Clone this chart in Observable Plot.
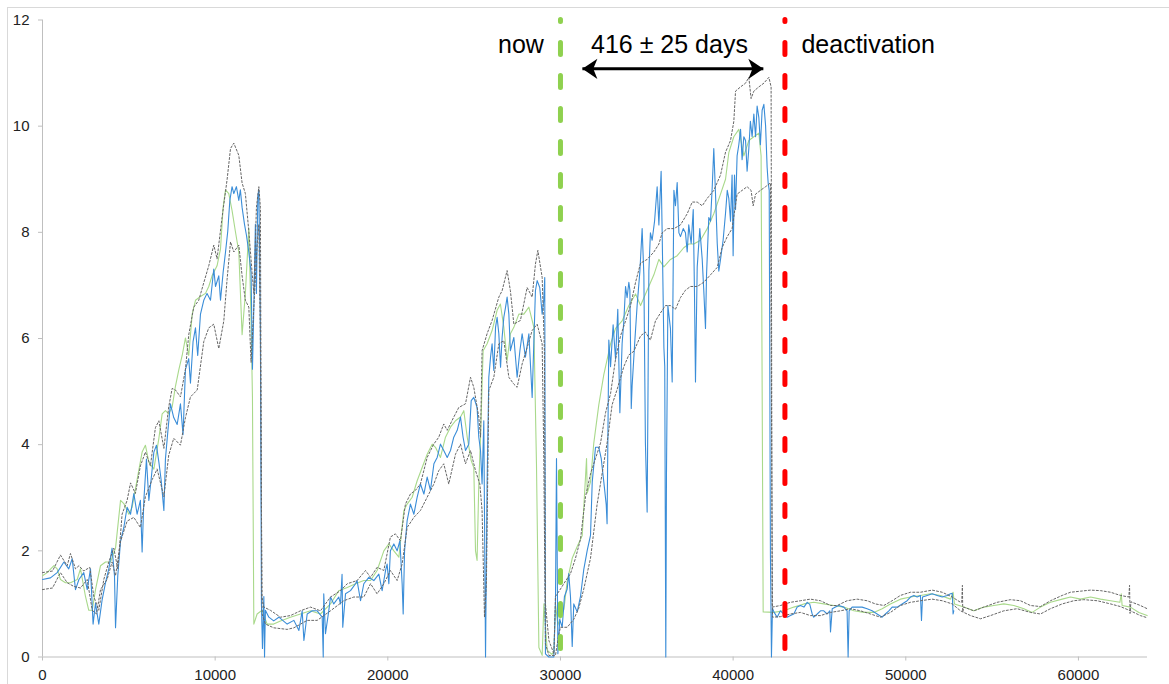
<!DOCTYPE html>
<html>
<head>
<meta charset="utf-8">
<script src="https://cdn.jsdelivr.net/npm/d3@7"></script>
<script src="https://cdn.jsdelivr.net/npm/@observablehq/plot@0.6"></script>
<style>
  html, body { margin: 0; padding: 0; background: #fff; overflow: hidden; }
  #wrap { position: relative; width: 1169px; height: 684px; }
  #border { position: absolute; left: 7px; top: 7px; width: 1200px; height: 700px;
            border-left: 1px solid #d9d9d9; border-top: 1px solid #d9d9d9; pointer-events: none; }
</style>
</head>
<body>
<div id="wrap"><div id="border"></div></div>
<script>
// ---- axes ----
const xDomain = [0, 64000];
const yDomain = [0, 12];
const xTicks = [0, 10000, 20000, 30000, 40000, 50000, 60000];
const yTicks = [0, 2, 4, 6, 8, 10, 12];

// ---- measured series (blue) ----
const measured = [[0,1.46],[460,1.49],[850,1.59],[1240,1.79],[1520,1.66],[1720,1.85],[1910,1.27],[2110,1.46],[2390,1.59],[2590,1.27],[2780,1.66],[2930,0.62],[3070,1.01],[3260,0.62],[3450,1.07],[3650,1.40],[3840,1.66],[4030,2.05],[4170,1.53],[4230,0.55],[4360,1.53],[4520,2.18],[4710,2.44],[4900,2.82],[5100,2.69],[5290,3.08],[5480,2.69],[5670,2.95],[5770,1.98],[5870,2.95],[6020,3.73],[6160,2.95],[6290,3.34],[6450,3.86],[6600,3.99],[6740,3.67],[6870,3.34],[7030,2.76],[7120,3.73],[7260,4.25],[7410,4.77],[7600,4.51],[7800,4.38],[7990,4.77],[8140,4.19],[8280,5.42],[8470,5.62],[8570,5.16],[8720,5.94],[8860,6.20],[8990,5.68],[9150,6.46],[9340,6.72],[9530,6.85],[9730,6.72],[9920,7.31],[10020,6.98],[10210,7.18],[10310,6.72],[10460,7.24],[10600,7.63],[10730,8.02],[10850,8.60],[10980,8.86],[11080,8.73],[11230,8.86],[11370,8.60],[11460,8.80],[11560,8.47],[11700,8.15],[11810,7.95],[11950,7.63],[12080,7.24],[12160,5.42],[12240,6.59],[12330,8.15],[12390,6.85],[12470,8.67],[12530,8.80],[12580,7.50],[12620,6.20],[12680,1.01],[12740,0.16],[12820,1.14],[12860,0],[12910,0.88],[13110,0.75],[13390,0.68],[13690,0.75],
[14170,0.62],[14560,0.69],[14850,0.50],[15040,0.87],[15140,0.31],[15330,0.81],[15620,0.87],[15910,0.87],[16200,0.75],[16260,0],[16290,1.19],[16390,0.44],[16580,0.87],[16680,1.13],[16870,1.00],[17160,1.13],[17260,1.00],[17350,1.56],[17390,0.56],[17550,1.19],[17840,1.25],[18130,1.38],[18220,1.44],[18420,1.06],[18610,1.38],[18900,1.50],[19190,1.44],[19480,1.56],[19670,1.25],[19870,1.63],[19960,1.75],[20060,1.38],[20150,2.00],[20350,2.13],[20540,2.00],[20700,2.19],[20830,1.38],[20890,0.81],[20970,2.00],[21120,2.57],[21310,2.88],[21510,2.69],[21700,3.01],[21890,3.26],[22090,3.07],[22280,3.39],[22470,3.14],[22670,3.64],[22860,3.76],[23050,4.01],[23240,3.89],[23440,3.76],[23630,3.89],[23820,4.14],[24020,4.27],[24210,4.52],[24360,4.14],[24500,3.89],[24690,4.01],[24830,4.83],[24980,4.89],[25170,4.70],[25270,4.14],[25370,3.89],[25460,3.26],[25560,4.45],[25660,0],[25750,3.26],[25850,5.27],[25950,5.65],[26040,5.90],[26140,5.40],[26240,6.21],[26330,6.40],[26430,6.09],[26530,5.46],[26620,6.02],[26720,6.40],[26820,6.59],[26910,6.78],[27010,6.46],[27100,5.77],[27300,6.02],[27490,5.27],[27650,5.77],[27780,6.09],[27970,5.65],[28170,6.09],[28360,4.89],[28550,6.90],[28650,7.09],[28800,6.96],[28940,6.46],[29030,6.71],[29090,7.15],
[29130,0.06],[29325,0],[29615,0],[29710,1.0],[29770,3.74],[29850,0.06],[29960,0.71],[30100,0.56],[30230,1.14],[30390,1.28],[30480,1.57],[30580,1.14],[30680,0.20],[30770,1.00],[30970,0.85],[31160,1.14],[31350,1.65],[31550,2.01],[31740,2.29],[31840,3.30],[32030,3.95],[32220,3.95],[32360,3.74],[32510,3.30],[32650,2.87],[32700,2.51],[32800,5.97],[32900,5.47],[33050,6.26],[33190,5.61],[33320,6.55],[33440,4.60],[33570,5.90],[33670,6.33],[33770,6.98],[33860,6.77],[33960,7.06],[34020,6.91],[34100,4.68],[34150,5.11],[34310,5.97],[34440,6.62],[34600,7.27],[34730,8.07],[34830,7.20],[34920,4.03],[35020,2.73],[35120,7.27],[35210,7.99],[35310,7.85],[35450,8.21],[35600,8.86],[35700,8.14],[35830,9.15],[35890,7.99],[35990,5.83],[36040,5.47],[36100,0],[36140,3.45],[36220,6.62],[36370,6.19],[36470,5.18],[36570,8.79],[36660,8.50],[36760,8.94],[36860,7.99],[36950,7.92],[37110,8.07],[37240,7.99],[37340,7.63],[37430,8.14],[37570,7.79],[37690,8.43],[37760,6.91],[37820,5.18],[37920,7.35],[38070,8.07],[38210,7.49],[38300,6.91],[38400,6.19],[38460,7.20],[38590,8.28],[38690,8.21],[38790,8.86],[38880,9.58],[38980,8.72],[39080,7.79],[39170,7.27],[39270,7.49],[39420,7.85],[39560,8.36],[39660,8.79],[39750,8.64],[39850,8.21],[39940,9.08],[40000,7.56],[40080,9.08],[40140,8.43],[40230,9.44],[40330,9.65],[40430,9.94],[40520,9.37],[40620,9.80],[40720,9.73],[40810,9.15],[40910,9.58],[41000,10.09],[41100,9.80],[41200,10.23],[41300,9.80],[41390,10.38],[41490,10.16],[41580,9.65],[41680,10.30],[41780,10.41],[41880,10.01],[41970,9.22],[42030,8.93],[42090,8.79],[42160,1.93],[42220,0],[42280,0.92],[42360,0.85],
[42550,0.75],[42740,0.87],[42935,0.81],[43130,0.75],[43320,0.78],[43515,0.81],[43710,0.94],[43900,0.97],[44100,0.94],[44290,1.03],[44440,0.99],[44580,0.81],[44670,0.75],[44870,0.81],[45060,0.87],[45250,0.87],[45445,0.81],[45600,0.87],[45640,0.47],[45740,0.91],[45930,0.94],[46120,0.97],[46410,0.94],[46600,0.87],[46660,0],[46720,0.87],[46890,0.94],[47180,0.94],[47470,0.94],[47760,0.91],[48050,0.87],[48340,0.81],[48630,0.75],[48820,0.81],[49020,0.87],[49210,0.94],[49500,0.94],[49790,1.00],[50080,1.06],[50270,1.13],[50470,1.16],[50660,1.13],[50850,1.16],[50910,0.69],[50970,1.13],[51240,1.16],[51530,1.19],[51820,1.16],[52110,1.13],[52400,1.16],[52590,1.19],[52690,1.20],[52740,0.81],[52780,0.87]];

// ---- prediction (green) ----
const predicted = [[0,1.53],[270,1.59],[660,1.72],[850,1.66],[1040,1.46],[1330,1.40],[1620,1.40],[2010,1.46],[2200,1.66],[2490,1.14],[2680,0.88],[2880,0.88],[3070,1.27],[3360,1.72],[3650,1.79],[3940,1.79],[4230,2.05],[4520,2.95],[4710,2.89],[5000,2.69],[5190,2.82],[5480,3.34],[5770,3.86],[5960,3.99],[6160,3.67],[6450,3.54],[6740,4.12],[6930,4.58],[7120,4.64],[7310,4.58],[7510,4.71],[7700,5.10],[7900,5.42],[8090,5.68],[8280,6.01],[8470,5.68],[8670,6.46],[8860,6.72],[9150,6.79],[9440,6.85],[9630,6.98],[9820,7.18],[10110,7.37],[10310,7.69],[10460,8.47],[10600,8.80],[10790,8.73],[10980,8.41],[11170,8.02],[11370,7.63],[11560,6.07],[11750,6.85],[11950,8.08],[12080,6.33],[12160,4.90],[12240,0.62],[12430,0.81],[12720,0.88],[13010,0.62],[13390,0.62],[13780,0.68],
[14360,0.75],[14940,0.81],[15520,0.87],[16100,0.81],[16680,1.00],[17160,1.25],[17650,1.31],[18130,1.38],[18610,1.44],[19000,1.44],[19380,1.63],[19770,2.00],[20060,2.13],[20350,2.00],[20640,1.88],[20930,2.76],[21120,2.88],[21410,3.01],[21700,3.32],[21990,3.57],[22280,3.82],[22570,4.01],[22760,3.95],[23050,3.76],[23340,4.14],[23630,4.33],[23920,4.45],[24210,4.52],[24400,4.64],[24600,4.14],[24830,3.70],[24980,3.57],[25080,2.00],[25170,1.82],[25270,3.26],[25370,4.14],[25520,5.77],[25750,5.90],[26040,6.15],[26330,6.53],[26520,6.65],[26720,6.21],[26910,5.58],[27100,6.09],[27300,6.21],[27590,6.46],[27880,6.46],[28170,6.59],[28460,6.21],[28610,3.64],[28750,0.18],[28940,0.03],[29040,1.0],[29230,0.13],[29500,0.05],[29620,0.1],[29710,1.0],[29850,0.6],[30000,0.75],[30200,0.9],
[30390,1.43],[30680,1.86],[30970,2.08],[31260,2.29],[31510,3.74],[31550,3.09],[31740,3.30],[31930,4.03],[32220,4.75],[32510,5.32],[32900,5.90],[33190,6.19],[33570,6.33],[33960,6.62],[34350,6.84],[34640,6.62],[35020,6.91],[35410,7.20],[35700,7.49],[35990,7.35],[36370,7.49],[36760,7.56],[37140,7.71],[37430,7.78],[37720,7.78],[38110,7.85],[38500,8.07],[38880,8.35],[39270,8.72],[39560,9.00],[39750,9.50],[40040,9.80],[40330,9.94],[40620,9.44],[40910,9.73],[41200,9.80],[41490,9.87],[41620,9.44],[41740,0.85],
[42360,0.84],[42935,0.87],[43515,0.94],[44100,1.00],[44670,1.03],[45250,1.00],[45830,0.97],[46410,0.94],[46990,0.87],[47570,0.84],[48150,0.84],[48630,0.91],[49110,1.00],[49690,1.09],[50270,1.13],[50850,1.16],[51430,1.19],[52010,1.16],[52590,1.09],[52740,1.22],[52820,1.00],[53360,0.94],[53940,0.87],[54520,0.94],[55100,0.97],[55680,1.00],[56260,0.97],[56840,0.91],[57320,0.84],[57800,0.94],[58380,1.03],[59060,1.09],[59540,1.13],[60120,1.09],[60700,1.13],[61280,1.09],[61860,1.06],[62400,1.03],[62480,1.19],[62530,0.97],[63010,0.94],[63500,0.84],[63980,0.78]];

// ---- upper bound (dotted) ----
const upperBound = [[0,1.59],[580,1.62],[1040,1.92],[1430,1.72],[1620,1.95],[1910,1.66],[2110,1.72],[2390,1.62],[2740,1.69],[2970,1.14],[3260,0.88],[3550,1.46],[3840,1.79],[4130,2.05],[4360,1.66],[4610,2.69],[4900,2.95],[5100,3.28],[5380,3.08],[5670,3.60],[5960,3.86],[6250,3.60],[6540,4.32],[6740,4.45],[7030,3.93],[7310,4.71],[7510,5.06],[7700,5.03],[7990,4.90],[8280,5.42],[8470,6.07],[8760,6.59],[9050,6.72],[9340,7.05],[9630,7.37],[9920,7.76],[10110,7.50],[10400,8.28],[10690,8.99],[10890,9.58],[11080,9.68],[11370,9.45],[11560,8.93],[11750,8.73],[11950,8.02],[12140,7.24],[12240,6.85],[12390,8.47],[12530,8.86],[12620,8.47],[12700,1.14],[12820,0.94],[13200,0.88],[13780,0.75],
[14360,0.78],[14940,0.87],[15520,0.94],[16100,0.87],[16680,1.13],[17260,1.25],[17650,1.38],[18220,1.44],[18710,1.63],[19000,1.50],[19380,1.69],[19770,1.63],[20150,2.26],[20440,2.32],[20730,2.19],[21020,2.88],[21310,3.07],[21600,3.14],[21890,3.26],[22280,3.76],[22660,4.01],[22950,4.14],[23240,4.39],[23440,4.27],[23820,4.52],[24110,4.70],[24500,4.77],[24790,5.27],[24980,5.08],[25270,4.52],[25370,4.14],[25460,5.77],[25750,6.09],[26040,6.34],[26430,6.78],[26620,6.90],[26910,7.28],[27100,6.90],[27300,6.27],[27680,6.34],[28070,6.96],[28360,6.78],[28550,7.40],[28690,7.66],[28940,7.15],[29070,5.77],[29130,1.00],[29330,0.31],[29620,0.06],[29710,1.14],
[30000,1.28],[30290,1.43],[30580,1.57],[30870,1.86],[31160,2.22],[31450,3.02],[31740,3.45],[32030,3.74],[32320,4.03],[32610,4.60],[32900,4.96],[33190,5.61],[33480,6.05],[33770,6.33],[34060,6.62],[34350,7.06],[34640,7.42],[35020,7.49],[35410,7.63],[35700,7.78],[35890,7.99],[36180,8.07],[36570,8.07],[36950,8.14],[37340,8.35],[37630,8.57],[37920,8.57],[38210,8.50],[38500,8.64],[38880,8.79],[39270,9.08],[39560,9.51],[39850,9.73],[40040,10.09],[40140,10.66],[40430,10.74],[40720,10.81],[40910,10.92],[41040,10.52],[41200,10.66],[41490,10.74],[41780,10.81],[42070,10.92],[42200,10.74],[42260,0.94],
[42740,0.97],[43320,1.03],[43900,1.06],[44480,1.09],[45060,1.06],[45640,0.97],[46025,0.97],[46600,1.06],[47180,1.09],[47760,1.06],[48240,1.00],[48730,0.97],[49210,1.06],[49690,1.16],[50270,1.22],[50850,1.22],[51530,1.26],[52110,1.22],[52690,1.13],[53170,1.03],[53240,1.03],[53280,1.35],[53300,0.85],[53360,0.94],[53940,0.87],[54520,0.94],[55290,1.03],[56060,1.08],[56640,1.06],[57220,0.97],[57800,0.95],[58380,1.06],[59060,1.16],[59540,1.22],[60120,1.24],[60700,1.26],[61280,1.25],[61860,1.22],[62430,1.16],[62920,1.13],[62960,1.35],[62990,0.82],[63040,1.04],[63590,0.97],[63980,0.91]];

// ---- lower bound (dotted) ----
const lowerBound = [[0,1.27],[580,1.30],[1040,1.59],[1430,1.40],[1810,1.33],[2200,1.30],[2590,1.46],[2880,0.88],[3130,0.81],[3360,1.27],[3740,1.46],[4030,1.79],[4230,1.53],[4520,2.18],[4900,2.56],[5290,2.63],[5670,2.44],[5960,3.02],[6350,3.34],[6640,3.54],[7030,3.02],[7310,3.80],[7600,4.12],[7990,3.99],[8280,4.51],[8570,4.90],[8960,5.03],[9340,5.94],[9630,6.20],[9920,6.27],[10210,5.81],[10500,6.33],[10690,7.11],[10890,7.82],[11080,7.63],[11370,7.76],[11560,7.18],[11750,6.72],[11950,6.59],[12080,5.55],[12240,6.59],[12430,7.76],[12530,8.15],[12620,5.94],[12720,0.81],[12910,0.62],[13390,0.55],[14170,0.52],
[14560,0.55],[15330,0.69],[15910,0.69],[16680,0.87],[17450,1.06],[18030,1.13],[18610,1.13],[19000,1.38],[19380,1.19],[19770,1.38],[20150,1.63],[20540,1.44],[20830,1.75],[21120,2.44],[21510,2.63],[21890,2.76],[22280,3.01],[22670,3.26],[22950,3.51],[23240,3.64],[23530,3.26],[23920,3.82],[24210,4.01],[24500,3.64],[24790,3.89],[25080,3.51],[25330,3.26],[25460,2.76],[25600,0.75],[25710,1.38],[25850,5.02],[26140,5.27],[26430,5.90],[26720,5.96],[27010,5.27],[27300,5.14],[27490,5.08],[27780,5.52],[28070,5.83],[28360,6.15],[28650,6.27],[28940,5.90],[29030,3.89],[29130,0.25],[29330,0.03],[29710,0.03],[29900,0.42],
[30000,0.56],[30390,0.56],[30770,0.71],[31060,0.92],[31350,1.28],[31740,1.86],[32120,2.87],[32410,3.45],[32700,4.03],[32990,4.75],[33280,5.04],[33670,5.47],[33960,5.69],[34250,5.76],[34640,6.05],[34920,6.12],[35210,5.97],[35500,6.33],[35790,6.48],[36080,6.62],[36370,6.62],[36660,6.55],[36950,6.77],[37240,6.91],[37530,6.98],[37920,6.98],[38300,7.06],[38690,7.20],[39080,7.34],[39360,7.71],[39660,7.92],[39940,8.07],[40230,8.72],[40520,8.79],[40810,8.86],[41040,8.79],[41160,8.50],[41300,8.72],[41580,8.79],[41880,8.86],[42160,8.93],[42280,0.75],
[42740,0.76],[43320,0.81],[43900,0.84],[44480,0.78],[45060,0.78],[45640,0.84],[46220,0.87],[46800,0.91],[47380,0.87],[47955,0.81],[48530,0.75],[49110,0.84],[49690,0.97],[50270,1.03],[50850,1.06],[51530,1.09],[52110,1.06],[52690,1.00],[53170,0.87],[53750,0.78],[54330,0.72],[54905,0.78],[55680,0.87],[56450,0.91],[57220,0.84],[57800,0.81],[58380,0.91],[59060,1.00],[59730,1.06],[60310,1.08],[61085,1.06],[61860,1.00],[62430,0.95],[63010,0.87],[63590,0.78],[63980,0.74]];

// ---- annotations ----
const nowX = 30000;
const deactivationX = 43000;
const arrowY = 11.08;
const arrowStart = 31270;
const arrowEnd = 41750;
const labelY = 11.53;
const centeredLabels = [
  {x: 27713, text: "now"},
  {x: 36314, text: "416 ± 25 days"}
];
const startLabels = [
  {x: 43958, text: "deactivation"}
];
const arrowHeads = [
  {x: arrowStart, angle: 180},
  {x: arrowEnd, angle: 0}
];

const FONT = "'Liberation Sans', Arial, Helvetica, sans-serif";
const X = d => d[0], Y = d => d[1];

// filled "stealth" arrowhead, tip at the origin, pointing right
const stealth = {
  draw(context, size) {
    const s = Math.sqrt(size / Math.PI);
    context.moveTo(0, 0);
    context.lineTo(-2 * s, -1.35 * s);
    context.lineTo(-1.45 * s, 0);
    context.lineTo(-2 * s, 1.35 * s);
    context.closePath();
  }
};

const chart = Plot.plot({
  width: 1169,
  height: 684,
  marginLeft: 42,
  marginRight: 22,
  marginTop: 19.5,
  marginBottom: 27.5,
  style: {fontFamily: FONT, background: "transparent"},
  x: {domain: xDomain},
  y: {domain: yDomain},
  marks: [
    Plot.ruleX([xDomain[0]], {stroke: "#bfbfbf", strokeWidth: 1}),
    Plot.ruleY([yDomain[0]], {stroke: "#bfbfbf", strokeWidth: 1}),
    Plot.axisY({ticks: yTicks, tickSize: 4, tickPadding: 9, stroke: "#bfbfbf", fill: "#222", fontSize: 15, label: null, tickFormat: d => String(d)}),
    Plot.axisX({ticks: xTicks, tickSize: 4, tickPadding: 8, stroke: "#bfbfbf", fill: "#222", fontSize: 15, label: null, tickFormat: d => String(d)}),
    Plot.line(predicted, {x: X, y: Y, stroke: "#a9d98b", strokeWidth: 1.1}),
    Plot.line(measured, {x: X, y: Y, stroke: "#3a8dd8", strokeWidth: 1.1}),
    Plot.line(upperBound, {x: X, y: Y, stroke: "#666", strokeWidth: 1, strokeDasharray: "2,2"}),
    Plot.line(lowerBound, {x: X, y: Y, stroke: "#666", strokeWidth: 1, strokeDasharray: "2,2"}),
    Plot.ruleX([nowX], {y1: () => yDomain[1], y2: () => yDomain[0], stroke: "#8fd14f", strokeWidth: 5, strokeDasharray: "12,21", strokeDashoffset: 10, strokeLinecap: "round"}),
    Plot.ruleX([deactivationX], {y1: () => yDomain[1], y2: () => yDomain[0], stroke: "#ff0000", strokeWidth: 5, strokeDasharray: "12,21", strokeDashoffset: 10, strokeLinecap: "round"}),
    Plot.link([{x1: arrowStart, x2: arrowEnd}], {x1: "x1", x2: "x2", y1: () => arrowY, y2: () => arrowY, stroke: "black", strokeWidth: 3}),
    Plot.dot(arrowHeads, {x: "x", y: () => arrowY, rotate: "angle", symbol: stealth, r: 7.5, fill: "black", stroke: "none"}),
    Plot.text(centeredLabels, {x: "x", y: () => labelY, text: "text", textAnchor: "middle", fontSize: 25, fill: "black", fontFamily: FONT}),
    Plot.text(startLabels, {x: "x", y: () => labelY, text: "text", textAnchor: "start", fontSize: 25, fill: "black", fontFamily: FONT})
  ]
});
document.getElementById("wrap").appendChild(chart);
</script>
</body>
</html>
